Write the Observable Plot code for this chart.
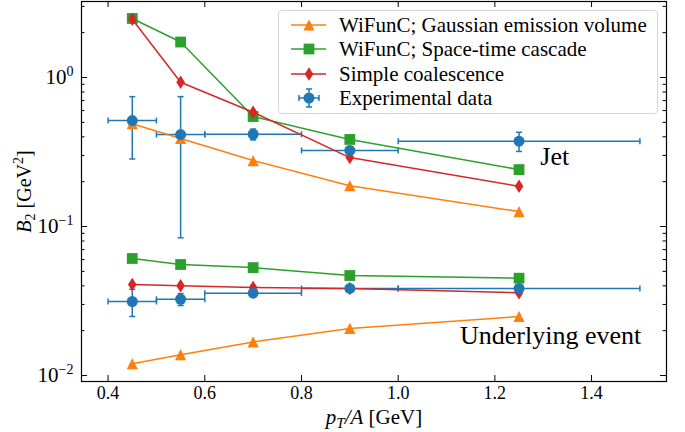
<!DOCTYPE html>
<html><head><meta charset="utf-8">
<script src="https://cdn.jsdelivr.net/npm/d3@7"></script>
<script src="https://cdn.jsdelivr.net/npm/@observablehq/plot@0.6"></script>
<style>
body{margin:0;background:#fff;}
#wrap{position:relative;width:685px;height:432px;font-family:"Liberation Serif","Times New Roman",serif;}
#legend{position:absolute;left:278px;top:10px;width:380px;height:104px;box-sizing:border-box;border:1px solid #d6d6d6;border-radius:4px;background:rgba(255,255,255,0.8);}
.row{position:absolute;left:0;width:378px;height:24px;}
.row svg{position:absolute;left:0;top:0;}
.row span{position:absolute;left:60px;top:0;line-height:24px;font-size:21px;white-space:nowrap;color:#000;font-family:"Liberation Serif","Times New Roman",serif;}
</style></head><body><div id="wrap"></div>
<script>
// ---- data ----
const pt = [0.45, 0.55, 0.7, 0.9, 1.25];
const ptErr = [0.05, 0.05, 0.1, 0.1, 0.25];
const jetGauss = [0.49, 0.39, 0.277, 0.188, 0.126];
const jetCascade = [2.49, 1.73, 0.547, 0.384, 0.241];
const jetCoal = [2.46, 0.93, 0.585, 0.29, 0.186];
const jetData = [0.514, 0.414, 0.416, 0.324, 0.374];
const jetDataErr = [0.23, 0.33, 0.035, 0.02, 0.055];
const ueGauss = [0.012, 0.0138, 0.0168, 0.0207, 0.0249];
const ueCascade = [0.061, 0.0556, 0.053, 0.0469, 0.045];
const ueCoal = [0.0408, 0.0401, 0.039, 0.0384, 0.0359];
const ueData = [0.0314, 0.0325, 0.0357, 0.0384, 0.0384];
const ueDataErr = [0.0065, 0.003, 0.0012, 0.001, 0.0008];
const seriesNames = ["WiFunC; Gaussian emission volume", "WiFunC; Space-time cascade", "Simple coalescence", "Experimental data"];
const annText = ["Jet", "Underlying event"];
const annX = [1.294, 1.128];
const annY = [0.296, 0.01855];
const xTicks = [0.4, 0.6, 0.8, 1.0, 1.2, 1.4];
const yMajor = [0.01, 0.1, 1];
const yMinor = [0.02,0.03,0.04,0.05,0.06,0.07,0.08,0.09,0.2,0.3,0.4,0.5,0.6,0.7,0.8,0.9,2,3];
const xDomain = [0.345, 1.555];
const yDomain = [0.00912, 3.236];

// ---- styling ----
const blue="#1f77b4", orange="#ff7f0e", green="#2ca02c", red="#d62728";
const W=685, H=432, mL=81, mR=19, mT=1, mB=51;
const plotW=W-mL-mR, plotH=H-mT-mB;

const triUp = {draw(ctx,size){const a=Math.sqrt(size/Math.PI);ctx.moveTo(0,-a);ctx.lineTo(a,a);ctx.lineTo(-a,a);ctx.closePath();}};
const sq = {draw(ctx,size){const a=Math.sqrt(size/Math.PI);ctx.rect(-a,-a,2*a,2*a);}};
const thinDiamond = {draw(ctx,size){const r=Math.sqrt(size/Math.PI);const h=r*1.25,w=r*0.8;ctx.moveTo(0,-h);ctx.lineTo(w,0);ctx.lineTo(0,h);ctx.lineTo(-w,0);ctx.closePath();}};
const hCap = {draw(ctx){ctx.moveTo(-3,0);ctx.lineTo(3,0);}};
const vCap = {draw(ctx){ctx.moveTo(0,-3);ctx.lineTo(0,3);}};

const rowsOf = ys => pt.map((x,i)=>({x, y: ys[i]}));
const dataOf = (ys, es) => pt.map((x,i)=>({x, y: ys[i], xlo: x-ptErr[i], xhi: x+ptErr[i], ylo: ys[i]-es[i], yhi: ys[i]+es[i]}));
const models = [
  {rows: rowsOf(jetGauss), c: orange, s: triUp, r: 5.6},
  {rows: rowsOf(ueGauss), c: orange, s: triUp, r: 5.6},
  {rows: rowsOf(jetCascade), c: green, s: sq, r: 5.4},
  {rows: rowsOf(ueCascade), c: green, s: sq, r: 5.4},
  {rows: rowsOf(jetCoal), c: red, s: thinDiamond, r: 5.4},
  {rows: rowsOf(ueCoal), c: red, s: thinDiamond, r: 5.4}
];
const exp = dataOf(jetData, jetDataErr).concat(dataOf(ueData, ueDataErr));
const ann = annText.map((t,i)=>({t, x: annX[i], y: annY[i]}));

const marks = [];
// error bars (beneath model lines)
marks.push(Plot.link(exp, {x1: d=>d.xlo, x2: d=>d.xhi, y1: d=>d.y, y2: d=>d.y, stroke: blue, strokeWidth: 1.5}));
marks.push(Plot.link(exp, {x1: d=>d.x, x2: d=>d.x, y1: d=>d.ylo, y2: d=>d.yhi, stroke: blue, strokeWidth: 1.5}));
marks.push(Plot.dot(exp, {x: d=>d.xlo, y: d=>d.y, symbol: vCap, stroke: blue, strokeWidth: 1.5, fill: "none"}));
marks.push(Plot.dot(exp, {x: d=>d.xhi, y: d=>d.y, symbol: vCap, stroke: blue, strokeWidth: 1.5, fill: "none"}));
marks.push(Plot.dot(exp, {x: d=>d.x, y: d=>d.ylo, symbol: hCap, stroke: blue, strokeWidth: 1.5, fill: "none"}));
marks.push(Plot.dot(exp, {x: d=>d.x, y: d=>d.yhi, symbol: hCap, stroke: blue, strokeWidth: 1.5, fill: "none"}));
for (const m of models) {
  marks.push(Plot.line(m.rows, {x: d=>d.x, y: d=>d.y, stroke: m.c, strokeWidth: 1.5}));
  marks.push(Plot.dot(m.rows, {x: d=>d.x, y: d=>d.y, symbol: m.s, r: m.r, fill: m.c, stroke: "none"}));
}
marks.push(Plot.dot(exp, {x: d=>d.x, y: d=>d.y, r: 5.5, fill: blue, stroke: "none"}));
// annotations
marks.push(Plot.text(ann, {x: d=>d.x, y: d=>d.y, text: d=>d.t, textAnchor: "start", lineAnchor: "middle", fontSize: 26, fill: "#000"}));
// ticks (inward, all four sides)
marks.push(Plot.ruleX(xTicks, {x: d=>d, insetTop: plotH-6, stroke: "#000"}));
marks.push(Plot.ruleX(xTicks, {x: d=>d, insetBottom: plotH-6, stroke: "#000"}));
marks.push(Plot.ruleY(yMajor, {y: d=>d, insetRight: plotW-6, stroke: "#000"}));
marks.push(Plot.ruleY(yMajor, {y: d=>d, insetLeft: plotW-6, stroke: "#000"}));
marks.push(Plot.ruleY(yMinor, {y: d=>d, insetRight: plotW-3.5, stroke: "#000"}));
marks.push(Plot.ruleY(yMinor, {y: d=>d, insetLeft: plotW-3.5, stroke: "#000"}));
// tick labels
marks.push(Plot.axisX(xTicks, {tickSize: 0, tickPadding: 5, tickFormat: d3.format(".1f"), label: null, fontSize: 18}));
marks.push(Plot.axisY(yMajor, {tickSize: 0, tickPadding: 8, tickFormat: d => "10^" + Math.round(Math.log10(d)), label: null, fontSize: 21}));
// axis titles
marks.push(Plot.text(["__XLABEL__"], {frameAnchor: "bottom", textAnchor: "middle", lineAnchor: "middle", dy: 36, fontSize: 21, fill: "#000"}));
marks.push(Plot.text(["__YLABEL__"], {frameAnchor: "left", textAnchor: "middle", lineAnchor: "middle", dx: -57, rotate: -90, fontSize: 20, fill: "#000"}));
marks.push(Plot.frame({stroke: "#000", strokeWidth: 1.2}));

const chart = Plot.plot({
  width: W, height: H, marginLeft: mL, marginRight: mR, marginTop: mT, marginBottom: mB,
  style: {fontFamily: "'Liberation Serif','Times New Roman',serif", fontSize: "20px", color: "#000", background: "#fff", overflow: "visible"},
  x: {type: "linear", domain: xDomain, label: null},
  y: {type: "log", domain: yDomain, label: null},
  marks
});

// rich text: superscripts, subscripts, italics
chart.querySelectorAll("text").forEach(t => {
  const s = t.textContent;
  let m = s.match(/^10\^(-?\d+)$/);
  if (m) {
    t.innerHTML = `10<tspan dy="-8" font-size="14">${m[1].replace("-", "\u2212")}</tspan>`;
  } else if (s === "__XLABEL__") {
    t.innerHTML = `<tspan font-style="italic">p</tspan><tspan font-style="italic" font-size="15" dy="4">T</tspan><tspan dy="-4" font-style="italic">/A</tspan> [GeV]`;
  } else if (s === "__YLABEL__") {
    t.innerHTML = `<tspan font-style="italic">B</tspan><tspan font-size="14" dy="4">2</tspan><tspan dy="-4"> [GeV</tspan><tspan font-size="14" dy="-8">2</tspan><tspan dy="8">]</tspan>`;
  }
});

const wrap = document.getElementById("wrap");
wrap.appendChild(chart);

// legend
const handles = [
  `<line x1="12" y1="12" x2="47" y2="12" stroke="${orange}" stroke-width="1.5"/><path d="M30,6.4 L35.6,17.6 L24.4,17.6 Z" fill="${orange}"/>`,
  `<line x1="12" y1="12" x2="47" y2="12" stroke="${green}" stroke-width="1.5"/><rect x="24.6" y="6.6" width="10.8" height="10.8" fill="${green}"/>`,
  `<line x1="12" y1="12" x2="47" y2="12" stroke="${red}" stroke-width="1.5"/><path d="M30,5.3 L34.3,12 L30,18.7 L25.7,12 Z" fill="${red}"/>`,
  `<g stroke="${blue}" stroke-width="1.5"><line x1="20" y1="12" x2="40" y2="12"/><line x1="30" y1="3" x2="30" y2="21"/><line x1="20" y1="9" x2="20" y2="15"/><line x1="40" y1="9" x2="40" y2="15"/><line x1="27" y1="3" x2="33" y2="3"/><line x1="27" y1="21" x2="33" y2="21"/></g><circle cx="30" cy="12" r="5.5" fill="${blue}"/>`
];
const legend = document.createElement("div");
legend.id = "legend";
seriesNames.forEach((name, i) => {
  const row = document.createElement("div");
  row.className = "row";
  row.style.top = (1.5 + i * 24.6) + "px";
  row.innerHTML = `<svg width="60" height="24">${handles[i]}</svg><span>${name}</span>`;
  legend.appendChild(row);
});
wrap.appendChild(legend);
</script>
</body></html>
